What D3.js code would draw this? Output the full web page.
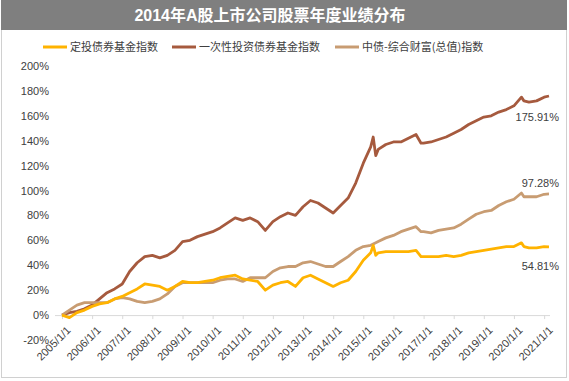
<!DOCTYPE html>
<html>
<head>
<meta charset="utf-8">
<script src="https://cdn.jsdelivr.net/npm/d3@7"></script>
<style>
  body { margin: 0; background: #fff; }
  svg { display: block; }
  .tick text { font-family: "Liberation Sans", Arial, sans-serif; font-size: 11px; fill: #404040; }
</style>
</head>
<body>
<div id="chart"></div>
<script>
// values (percent)
var title = '2014年A股上市公司股票年度业绩分布';
var seriesNames = ['定投债券基金指数', '一次性投资债券基金指数', '中债-综合财富(总值)指数'];
var seriesColors = ['#FFB300', '#A65A3E', '#C89C72'];
var endLabels = ['54.81%', '175.91%', '97.28%'];

var dates = [
  '2005-01','2005-04','2005-07','2005-10','2006-01','2006-04','2006-07','2006-10',
  '2007-01','2007-04','2007-07','2007-10','2008-01','2008-04','2008-07','2008-10',
  '2009-01','2009-04','2009-07','2009-10','2010-01','2010-04','2010-07','2010-10',
  '2011-01','2011-04','2011-07','2011-10','2012-01','2012-04','2012-07','2012-10',
  '2013-01','2013-04','2013-07','2013-10','2014-01','2014-04','2014-07','2014-10',
  '2015-01','2015-04','2015-05','2015-06','2015-07','2015-10',
  '2016-01','2016-04','2016-07','2016-10','2016-12',
  '2017-01','2017-04','2017-07','2017-10','2018-01','2018-04','2018-07','2018-10',
  '2019-01','2019-04','2019-07','2019-10',
  '2020-01','2020-04','2020-05','2020-07','2020-10','2021-01','2021-03'
];

var dingtou = [
  0, -2, 2, 4, 7, 9, 10, 13,
  15, 18, 21, 25, 24, 23, 20, 23,
  27, 26, 26, 27, 28, 30, 31, 32,
  29, 28, 27, 20, 24, 26, 27, 23,
  30, 32, 29, 26, 23, 26, 28, 35,
  44, 50, 56, 48, 50, 51,
  51, 51, 51, 52, 47,
  47, 47, 47, 48, 47, 48, 50, 51,
  52, 53, 54, 55,
  55, 58, 55, 54, 54, 55, 54.81
];

var lumpSum = [
  0, 2, 3, 5, 8, 13, 18, 21,
  25, 35, 42, 47, 48, 46, 48, 52,
  59, 60, 63, 65, 67, 70, 74, 78,
  76, 78, 75, 68, 75, 79, 82, 80,
  87, 92, 90, 86, 82, 88, 94, 106,
  122, 135, 143, 128, 133, 137,
  139, 139, 142, 145, 138,
  138, 139, 141, 143, 146, 149, 153, 156,
  159, 160, 163, 165,
  168, 175, 172, 171, 172, 175, 175.91
];

var chinaBond = [
  0, 4, 8, 10, 10, 10, 10, 13,
  14, 13, 11, 10, 11, 13, 17, 23,
  26, 26, 26, 26, 26, 28, 29, 29,
  27, 30, 30, 30, 35, 38, 39, 39,
  42, 43, 41, 39, 39, 43, 47, 52,
  55, 56, 57, 58, 59, 62,
  64, 67, 69, 71, 67,
  67, 66, 68, 69, 70, 73, 77, 81,
  83, 84, 88, 91,
  93, 98, 95, 95, 95, 97, 97.28
];

var yTicks = [-20, 0, 20, 40, 60, 80, 100, 120, 140, 160, 180, 200];

var W = 569, H = 381;
var parse = d3.timeParse('%Y-%m');
var fmt = d3.timeFormat('%Y/%-m/%-d');
var allSeries = [dingtou, lumpSum, chinaBond];

var svg = d3.select('#chart').append('svg')
  .attr('width', W)
  .attr('height', H);

// frame and title bar
svg.append('rect')
  .attr('x', 1.5).attr('y', 0.5)
  .attr('width', 565).attr('height', 377)
  .attr('fill', '#fff')
  .attr('stroke', '#d0d0d0');
svg.append('rect')
  .attr('x', 1).attr('y', 0)
  .attr('width', 566).attr('height', 30)
  .attr('fill', '#7f7f7f');
svg.append('text')
  .attr('x', 270).attr('y', 21)
  .attr('text-anchor', 'middle')
  .attr('fill', '#fff')
  .attr('font-family', '"Liberation Sans", "Noto Sans CJK SC", sans-serif')
  .attr('font-weight', 'bold')
  .attr('font-size', '16px')
  .text(title);

// legend
var legendX = [43, 172, 335];
var legend = svg.append('g').attr('transform', 'translate(0,47)');
seriesNames.forEach(function (name, i) {
  legend.append('line')
    .attr('x1', legendX[i]).attr('x2', legendX[i] + 24)
    .attr('y1', 0).attr('y2', 0)
    .attr('stroke', seriesColors[i])
    .attr('stroke-width', 3);
  legend.append('text')
    .attr('x', legendX[i] + 27).attr('y', 4)
    .attr('fill', '#404040')
    .attr('font-family', '"Noto Sans CJK SC", sans-serif')
    .attr('font-size', '11px')
    .text(name);
});

var x = d3.scaleTime()
  .domain([new Date(2005, 0, 1), new Date(2021, 2, 1)])
  .range([62, 549]);
var y = d3.scaleLinear()
  .domain([-20, 200])
  .range([340, 66]);

// y axis labels
svg.append('g')
  .attr('transform', 'translate(49,0)')
  .call(d3.axisLeft(y).tickValues(yTicks).tickSize(0).tickPadding(0)
    .tickFormat(function (d) { return d + '%'; }))
  .call(function (g) { g.select('.domain').remove(); });

// x axis at 0%
var yearTicks = d3.range(2005, 2022).map(function (yr) { return new Date(yr, 0, 1); });
var xAxis = svg.append('g')
  .attr('transform', 'translate(0,' + y(0) + ')')
  .call(d3.axisBottom(x).tickValues(yearTicks).tickSize(4).tickSizeOuter(0).tickFormat(fmt));
xAxis.select('.domain').attr('stroke', '#d9d9d9').attr('d', 'M55,0.5H550');
xAxis.selectAll('.tick line').attr('stroke', '#d9d9d9');
xAxis.selectAll('.tick text')
  .attr('text-anchor', 'end')
  .attr('dx', 0).attr('dy', 0)
  .attr('transform', 'translate(4,11) rotate(-45)');

// lines
var line = d3.line()
  .x(function (d, i) { return x(parse(dates[i])); })
  .y(function (d) { return y(d); });

[1, 2, 0].forEach(function (i) {
  svg.append('path')
    .datum(allSeries[i])
    .attr('fill', 'none')
    .attr('stroke', seriesColors[i])
    .attr('stroke-width', 2.8)
    .attr('stroke-linejoin', 'round')
    .attr('d', line);
});

// end value labels
var labelOffset = [23, 25, -7];
allSeries.forEach(function (s, i) {
  var last = s[s.length - 1];
  svg.append('text')
    .attr('x', 559)
    .attr('y', y(last) + labelOffset[i])
    .attr('text-anchor', 'end')
    .attr('fill', '#404040')
    .attr('font-family', '"Liberation Sans", Arial, sans-serif')
    .attr('font-size', '11px')
    .text(endLabels[i]);
});
</script>
</body>
</html>
